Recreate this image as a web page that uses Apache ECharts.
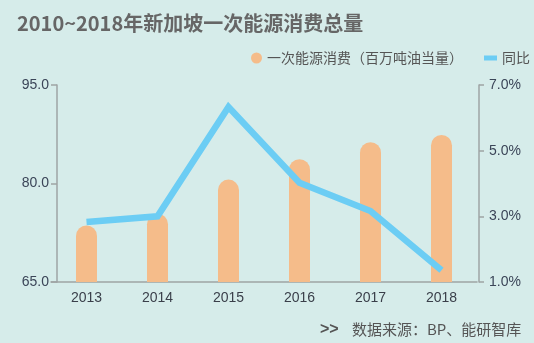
<!DOCTYPE html>
<html>
<head>
<meta charset="utf-8">
<script src="https://cdn.jsdelivr.net/npm/echarts@6/dist/echarts.min.js"></script>
<style>
html,body{margin:0;padding:0;background:#d6ecea;}
#c{width:534px;height:343px;}
</style>
</head>
<body>
<div id="c"></div>
<script>
const years = ['2013', '2014', '2015', '2016', '2017', '2018'];
const consumption = [73.6, 75.4, 80.6, 83.7, 86.3, 87.4];
const yoy = [2.83, 3.0, 6.33, 4.02, 3.16, 1.36];
const leftTicks = { min: 65, max: 95, interval: 15 };
const rightTicks = { min: 1, max: 7, interval: 2 };

const FONT = '"Noto Sans CJK SC", "Noto Sans", sans-serif';
const NUMFONT = '"Liberation Sans", Arial, sans-serif';
const chart = echarts.init(document.getElementById('c'), null, { renderer: 'canvas' });
const axisColor = '#9ea4a4';
chart.setOption({
  backgroundColor: '#d6ecea',
  animation: false,
  title: {
    text: '2010~2018年新加坡一次能源消费总量',
    left: 12, top: 8,
    textStyle: { fontFamily: FONT, fontSize: 20, fontWeight: 'bold', color: '#666666' }
  },
  legend: [{
    data: ['一次能源消费（百万吨油当量）'],
    left: 246, top: 46,
    icon: 'circle', itemWidth: 11, itemHeight: 11, itemGap: 6,
    textStyle: { fontFamily: FONT, fontSize: 14, color: '#555555' }
  }, {
    data: ['同比'],
    left: 479, top: 46,
    icon: 'rect', itemWidth: 13, itemHeight: 5,
    textStyle: { fontFamily: FONT, fontSize: 14, color: '#555555' }
  }],
  grid: { left: 51, right: 57, top: 85, bottom: 61, containLabel: false },
  xAxis: {
    type: 'category',
    data: years,
    axisLine: { lineStyle: { color: axisColor, width: 1.5 } },
    axisTick: { show: false },
    axisLabel: { fontFamily: NUMFONT, fontSize: 14, color: '#3a3f4a', margin: 9 }
  },
  yAxis: [{
    type: 'value',
    min: leftTicks.min, max: leftTicks.max, interval: leftTicks.interval,
    offset: -6,
    axisLine: { show: true, lineStyle: { color: axisColor, width: 1.5 } },
    axisTick: { show: true, length: 6, lineStyle: { color: axisColor, width: 1.5 } },
    splitLine: { show: false },
    axisLabel: { fontFamily: NUMFONT, fontSize: 14, color: '#3b4558', margin: 8,
      formatter: v => v.toFixed(1) }
  }, {
    type: 'value',
    min: rightTicks.min, max: rightTicks.max, interval: rightTicks.interval,
    offset: 2,
    axisLine: { show: true, lineStyle: { color: axisColor, width: 1.5 } },
    axisTick: { show: true, length: 5, lineStyle: { color: axisColor, width: 1.5 } },
    splitLine: { show: false },
    axisLabel: { fontFamily: NUMFONT, fontSize: 14, color: '#3b4558', margin: 10,
      formatter: v => v.toFixed(1) + '%' }
  }],
  series: [{
    name: '一次能源消费（百万吨油当量）',
    type: 'bar',
    data: consumption,
    barWidth: 21,
    itemStyle: { color: '#f5bc8a', borderRadius: [10.5, 10.5, 0, 0] },
    z: 2
  }, {
    name: '同比',
    type: 'line',
    yAxisIndex: 1,
    data: yoy,
    symbol: 'none',
    lineStyle: { color: '#6ccdf4', width: 6.5, join: 'miter', cap: 'butt' },
    itemStyle: { color: '#6ccdf4' },
    z: 3
  }],
  graphic: [{
    type: 'text',
    left: 320, top: 322,
    style: {
      text: '>>',
      font: 'bold 16px "Liberation Sans", sans-serif',
      fill: '#555555'
    }
  }, {
    type: 'text',
    left: 352, top: 322,
    style: {
      text: '数据来源：BP、能研智库',
      font: '15px "Noto Sans CJK SC", sans-serif',
      fill: '#555555'
    }
  }]
});
</script>
</body>
</html>
